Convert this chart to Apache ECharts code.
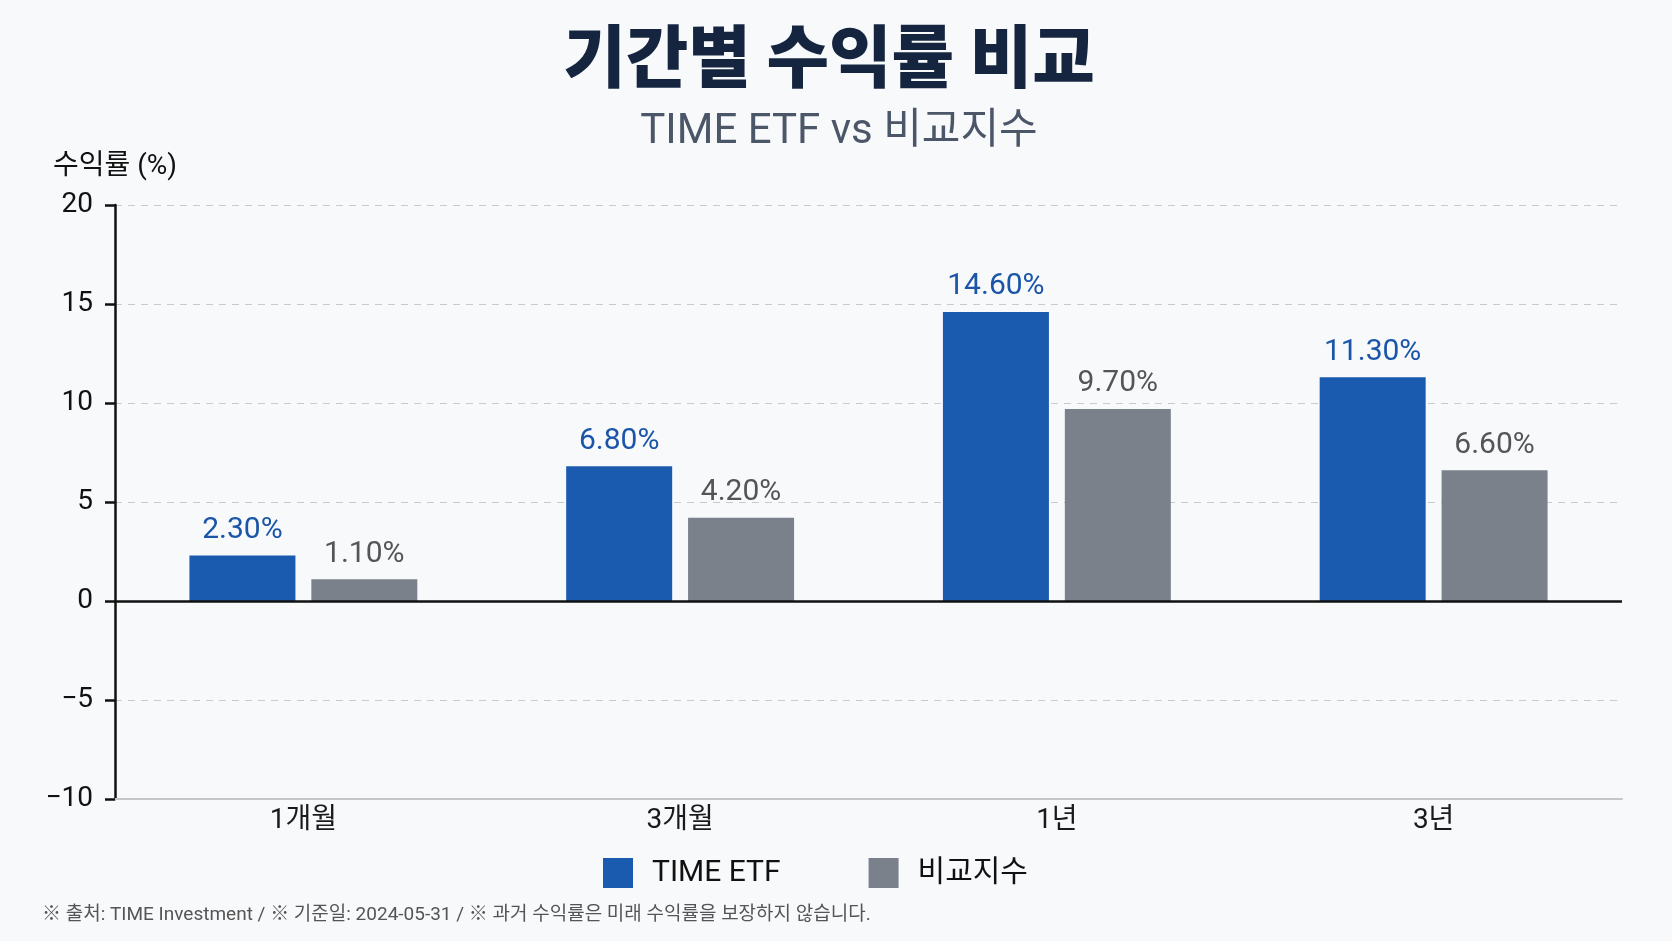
<!DOCTYPE html>
<html>
<head>
<meta charset="utf-8">
<script src="https://cdn.jsdelivr.net/npm/echarts@6/dist/echarts.min.js"></script>
<style>
  html, body { margin: 0; padding: 0; background: #f8f9fb; }
  #chart { width: 1672px; height: 941px; }
</style>
</head>
<body>
<div id="chart"></div>
<script>
var categories = ['1개월', '3개월', '1년', '3년'];
var etfValues = [2.3, 6.8, 14.6, 11.3];
var indexValues = [1.1, 4.2, 9.7, 6.6];
var seriesNames = ['TIME ETF', '비교지수'];

// 라틴 문자는 Roboto, 한글은 Noto Sans CJK KR
var FONT = 'Roboto, "Noto Sans CJK KR", sans-serif';

var myChart = echarts.init(document.getElementById('chart'));

var option = {
    backgroundColor: '#f8f9fb',
    textStyle: { fontFamily: FONT },
    title: [
        {
            text: '기간별 수익률 비교',
            left: 824, top: 17, textAlign: 'center',
            textStyle: { fontSize: 68, fontWeight: 900, color: '#15253f', fontFamily: '"Noto Sans CJK KR", sans-serif' }
        },
        {
            text: 'TIME ETF vs 비교지수',
            left: 834, top: 106, textAlign: 'center',
            textStyle: { fontSize: 42, fontWeight: 'normal', color: '#4b5668', fontFamily: FONT }
        },
        {
            text: '※ 출처: TIME Investment / ※ 기준일: 2024-05-31 / ※ 과거 수익률은 미래 수익률을 보장하지 않습니다.',
            left: 37, top: 901,
            textStyle: { fontSize: 19, fontWeight: 'normal', color: '#555', fontFamily: FONT }
        }
    ],
    legend: {
        data: seriesNames,
        left: 598, top: 853,
        itemWidth: 30, itemHeight: 30, itemGap: 88,
        icon: 'rect',
        textStyle: { fontSize: 30, color: '#111', padding: [0, 0, 0, 14] }
    },
    grid: { left: 115, right: 50, top: 205, bottom: 142 },
    xAxis: {
        type: 'category',
        data: categories,
        axisLine: { onZero: false, lineStyle: { color: '#c4c6ca', width: 2 } },
        axisTick: { show: false },
        axisLabel: { fontSize: 28, color: '#1a1a1a', margin: 8 }
    },
    yAxis: {
        type: 'value',
        min: -10, max: 20, interval: 5,
        name: '수익률 (%)',
        nameLocation: 'end',
        nameGap: 24,
        nameTextStyle: { fontSize: 28, color: '#111', align: 'center', padding: [0, 0, 0, 0] },
        axisLine: { show: true, lineStyle: { color: '#111', width: 2.5 } },
        axisTick: { show: true, length: 10, lineStyle: { color: '#111', width: 2.5 } },
        axisLabel: {
            fontSize: 28, color: '#111', margin: 22,
            formatter: function (v) { return v < 0 ? '\u2212' + Math.abs(v) : String(v); }
        },
        splitLine: { lineStyle: { color: '#c8cacd', type: [7, 6], width: 1.2 } }
    },
    series: [
        {
            name: seriesNames[0],
            type: 'bar',
            data: etfValues,
            barWidth: 106,
            barGap: '15%',
            itemStyle: { color: '#1a5bb0' },
            label: {
                show: true, position: 'top', distance: 10,
                fontSize: 30, color: '#1a55a8',
                formatter: function (p) { return p.value.toFixed(2) + '%'; }
            },
            markLine: {
                silent: true, symbol: 'none',
                label: { show: false },
                lineStyle: { color: '#111', type: 'solid', width: 2.5 },
                data: [{ yAxis: 0 }]
            }
        },
        {
            name: seriesNames[1],
            type: 'bar',
            data: indexValues,
            barWidth: 106,
            itemStyle: { color: '#7b818b' },
            label: {
                show: true, position: 'top', distance: 10,
                fontSize: 30, color: '#555',
                formatter: function (p) { return p.value.toFixed(2) + '%'; }
            }
        }
    ]
};

myChart.setOption(option);
window.addEventListener('resize', function () { myChart.resize(); });
</script>
</body>
</html>
